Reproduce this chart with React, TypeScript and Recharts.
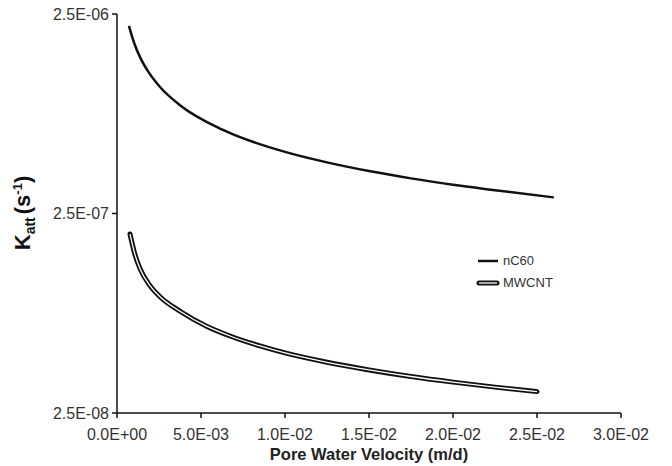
import { LineChart, Line, XAxis, YAxis } from "recharts";

// nC60 (pore water velocity m/d, Katt 1/s)
const nc60Velocity = [0.00071, 0.001, 0.00137, 0.0019, 0.00256, 0.00375, 0.00631, 0.01, 0.0125, 0.015, 0.0175, 0.02, 0.0225, 0.026];
const nc60Katt = [2.18e-6, 1.81e-6, 1.52e-6, 1.27e-6, 1.077e-6, 8.73e-7, 6.56e-7, 5.09e-7, 4.51e-7, 4.08e-7, 3.75e-7, 3.48e-7, 3.27e-7, 3.01e-7];

// MWCNT
const mwcntVelocity = [0.000774, 0.00107, 0.00137, 0.00196, 0.00256, 0.00375, 0.00536, 0.00673, 0.00851, 0.01, 0.0125, 0.015, 0.0175, 0.02, 0.0225, 0.025];
const mwcntKatt = [1.972e-7, 1.555e-7, 1.323e-7, 1.087e-7, 9.57e-8, 8.09e-8, 6.79e-8, 6.08e-8, 5.42e-8, 5.0e-8, 4.49e-8, 4.11e-8, 3.81e-8, 3.57e-8, 3.37e-8, 3.2e-8];

const xTicks = [0, 0.005, 0.01, 0.015, 0.02, 0.025, 0.03];
const yTicks = [2.5e-8, 2.5e-7, 2.5e-6];

const FONT = "'Liberation Sans', Arial, sans-serif";

const nc60Data = nc60Velocity.map((v, i) => ({ v, k: nc60Katt[i] }));
const mwcntData = mwcntVelocity.map((v, i) => ({ v, k: mwcntKatt[i] }));

// 2.5E-08 style labels
function sci(value: number) {
  if (value === 0) return "0.0E+00";
  let exp = Math.floor(Math.log10(value) + 1e-9);
  let mant = value / Math.pow(10, exp);
  if (mant >= 9.95) { mant /= 10; exp += 1; }
  const sign = exp < 0 ? "-" : "+";
  return `${mant.toFixed(1)}E${sign}${String(Math.abs(exp)).padStart(2, "0")}`;
}

function YTitle() {
  return (
    <text
      x={30}
      y={213}
      transform="rotate(-90, 30, 213)"
      textAnchor="middle"
      fontFamily={FONT}
      fontWeight="bold"
      fill="#111"
    >
      <tspan fontSize={22}>K</tspan>
      <tspan fontSize={14} dy={5}>att</tspan>
      <tspan fontSize={22} dy={-5} dx={3}>(s</tspan>
      <tspan fontSize={13} dy={-8}>-1</tspan>
      <tspan fontSize={22} dy={8}>)</tspan>
    </text>
  );
}

function LegendBox() {
  return (
    <div
      style={{
        position: "absolute",
        left: 476,
        top: 250,
        fontFamily: FONT,
        fontSize: 13,
        color: "#333",
        lineHeight: "22px",
      }}
    >
      <div style={{ display: "flex", alignItems: "center" }}>
        <svg width={27} height={10}>
          <line x1={2} y1={5} x2={22} y2={5} stroke="#111" strokeWidth={2.5} />
        </svg>
        <span>nC60</span>
      </div>
      <div style={{ display: "flex", alignItems: "center" }}>
        <svg width={27} height={10}>
          <line x1={3} y1={5} x2={21} y2={5} stroke="#111" strokeWidth={5} strokeLinecap="round" />
          <line x1={3} y1={5} x2={21} y2={5} stroke="#fff" strokeWidth={1.3} />
        </svg>
        <span>MWCNT</span>
      </div>
    </div>
  );
}

export default function App() {
  return (
    <div style={{ position: "absolute", left: 0, top: 0, width: 672, height: 466, background: "#fff" }}>
      <LineChart width={672} height={466} margin={{ top: 14, right: 51, bottom: 0, left: 0 }}>
        <XAxis
          dataKey="v"
          type="number"
          domain={[0, 0.03]}
          ticks={xTicks}
          tickFormatter={sci}
          height={53}
          axisLine={{ stroke: "#111", strokeWidth: 1.5 }}
          tickLine={{ stroke: "#111", strokeWidth: 1.5 }}
          tickSize={5}
          tickMargin={11}
          tick={{ fill: "#333", fontSize: 16, fontFamily: FONT }}
          label={{
            value: "Pore Water Velocity (m/d)",
            position: "insideBottom",
            offset: 6,
            fill: "#222",
            fontSize: 16.5,
            fontWeight: "bold",
            fontFamily: FONT,
          }}
        />
        <YAxis
          dataKey="k"
          type="number"
          scale="log"
          domain={[2.5e-8, 2.5e-6]}
          ticks={yTicks}
          tickFormatter={sci}
          width={117}
          allowDataOverflow
          axisLine={{ stroke: "#111", strokeWidth: 1.5 }}
          tickLine={{ stroke: "#111", strokeWidth: 1.5 }}
          tickSize={5}
          tickMargin={3}
          tick={{ fill: "#333", fontSize: 16, fontFamily: FONT }}
          label={<YTitle />}
        />
        <Line
          data={nc60Data}
          dataKey="k"
          type="monotone"
          stroke="#111"
          strokeWidth={2.5}
          dot={false}
          isAnimationActive={false}
        />
        <Line
          data={mwcntData}
          dataKey="k"
          type="monotone"
          stroke="#111"
          strokeWidth={5}
          strokeLinecap="round"
          dot={false}
          isAnimationActive={false}
        />
        <Line
          data={mwcntData}
          dataKey="k"
          type="monotone"
          stroke="#fff"
          strokeWidth={1.3}
          dot={false}
          isAnimationActive={false}
        />
      </LineChart>
      <LegendBox />
    </div>
  );
}
